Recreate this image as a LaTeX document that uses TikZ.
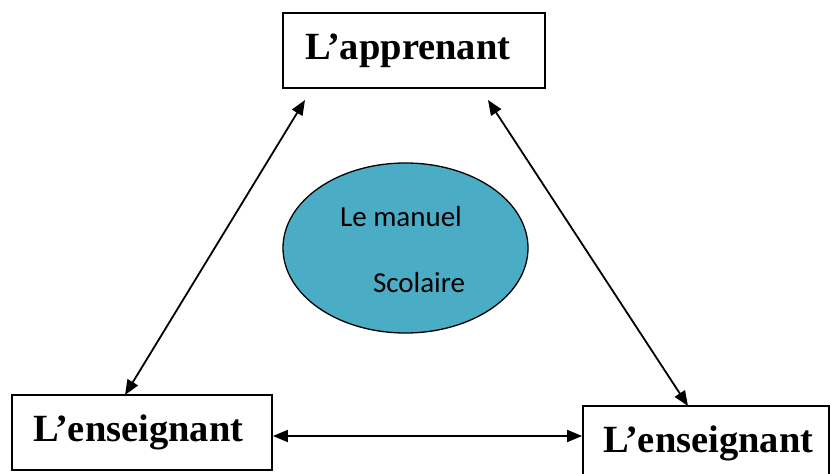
\documentclass[tikz,border=0pt]{standalone}
\usepackage{fontspec}
\setmainfont{Liberation Serif}
\newfontfamily\calibri{Carlito}
\usetikzlibrary{arrows.meta,shapes.geometric}
\definecolor{ManuelFill}{RGB}{75,172,198}
\newcommand{\boxtext}[3]{\makebox[#1][l]{\hspace{#2}#3}}

\begin{document}
\begin{tikzpicture}[x=1pt,y=-1pt,
   acteur/.style={draw,line width=1.8pt,rectangle,minimum height=75pt,
      inner sep=0pt,font=\fontsize{38.5}{41}\selectfont\bfseries},
   lien/.style={line width=1.8pt,{Triangle[length=15pt,width=12pt]}-{Triangle[length=15pt,width=12pt]}},
   txt/.style={font=\calibri\fontsize{29}{32}\selectfont,inner sep=0pt}]
\useasboundingbox (0,0) rectangle (831,474);
\node[acteur](app) at(414,50.5) {\boxtext{262pt}{22pt}{L’apprenant}};
\node[acteur](ens1) at(142,432.5) {\boxtext{260pt}{21pt}{L’enseignant}};
\node[acteur](ens2) at(706,443.5) {\boxtext{246pt}{20pt}{L’enseignant}};
\node[ellipse,draw,line width=1.3pt,fill=ManuelFill,minimum width=245pt,
   minimum height=170pt](manuel) at(405.5,248) {};
\node[txt](m1) at(401,217) {Le manuel};
\node[txt](m2) at(419,283) {Scolaire};
% extremites des fleches
\coordinate (a1) at (305,100);
\coordinate (a2) at (488,100);
\coordinate (e1) at (125,395);
\coordinate (e2) at (688,406);
\draw[lien] (a1) -- (e1);
\draw[lien] (a2) -- (e2);
\draw[lien] (ens1.east |- 0,436) -- (ens2.west |- 0,436);
\end{tikzpicture}
\end{document}
